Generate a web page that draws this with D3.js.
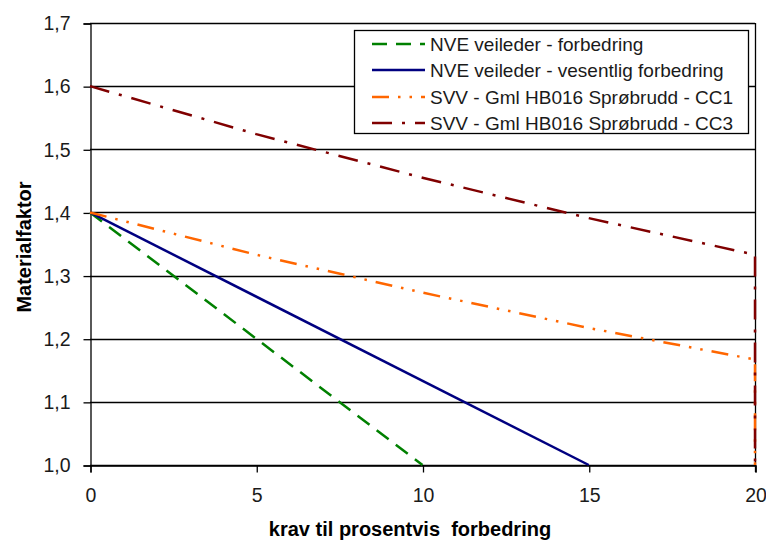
<!DOCTYPE html>
<html>
<head>
<meta charset="utf-8">
<script src="https://cdn.jsdelivr.net/npm/d3@7"></script>
<style>
  html, body { margin: 0; padding: 0; background: #fff; }
  svg { display: block; }
  text { font-family: "Liberation Sans", Arial, sans-serif; }
</style>
</head>
<body>
<svg id="chart" width="766" height="540"></svg>
<script>
// Material factor versus required percentage improvement
const seriesNames = [
  "NVE veileder - forbedring",
  "NVE veileder - vesentlig forbedring",
  "SVV - Gml HB016 Sprøbrudd - CC1",
  "SVV - Gml HB016 Sprøbrudd - CC3"
];
const nveForbedringX = [0, 10];
const nveForbedringY = [1.4, 1.0];
const nveVesentligX = [0, 15];
const nveVesentligY = [1.4, 1.0];
const svvCC1X = [0, 5, 10, 15, 20, 20];
const svvCC1Y = [1.400, 1.333, 1.273, 1.217, 1.167, 1.0];
const svvCC3X = [0, 5, 10, 15, 20, 20];
const svvCC3Y = [1.600, 1.524, 1.455, 1.391, 1.333, 1.0];
const xTicks = [0, 5, 10, 15, 20];
const yTicks = [1.0, 1.1, 1.2, 1.3, 1.4, 1.5, 1.6, 1.7];
const xTitle = "krav til prosentvis  forbedring";
const yTitle = "Materialfaktor";

const styles = [
  { color: "#008000", width: 2.5, dash: "15,9" },
  { color: "#000080", width: 2.5, dash: null },
  { color: "#FF6600", width: 2.5, dash: "17,9,2.5,9,2.5,9" },
  { color: "#800000", width: 2.5, dash: "20,10,3,10" }
];

const seriesData = [
  nveForbedringX.map((x, i) => [x, nveForbedringY[i]]),
  nveVesentligX.map((x, i) => [x, nveVesentligY[i]]),
  svvCC1X.map((x, i) => [x, svvCC1Y[i]]),
  svvCC3X.map((x, i) => [x, svvCC3Y[i]])
];

const svg = d3.select("#chart");
const plotLeft = 90, plotRight = 755, plotTop = 23, plotBottom = 465;

const x = d3.scaleLinear().domain([0, 20]).range([plotLeft, plotRight]);
const y = d3.scaleLinear().domain([1.0, 1.7]).range([plotBottom, plotTop]);
const comma = v => d3.format(".1f")(v).replace(".", ",");

// horizontal grid lines
svg.append("g")
  .selectAll("line")
  .data(yTicks)
  .join("line")
  .attr("x1", plotLeft).attr("x2", plotRight)
  .attr("y1", d => Math.round(y(d)) + 0.5).attr("y2", d => Math.round(y(d)) + 0.5)
  .attr("stroke", "#000").attr("stroke-width", 1.3);

// right border of the plot area
svg.append("line")
  .attr("x1", plotRight + 0.5).attr("x2", plotRight + 0.5)
  .attr("y1", plotTop).attr("y2", plotBottom + 7)
  .attr("stroke", "#000").attr("stroke-width", 1.3);

// y axis
const yAxis = svg.append("g")
  .attr("transform", `translate(${plotLeft + 0.5},0.5)`)
  .call(d3.axisLeft(y).tickValues(yTicks).tickFormat(comma).tickSize(7).tickPadding(13));
yAxis.select(".domain").attr("stroke-width", 1.3);
yAxis.selectAll(".tick line").attr("stroke-width", 1.3);
yAxis.selectAll("text").attr("font-size", 19.5).attr("fill", "#1a1a1a")
  .style("font-family", "'Liberation Sans', Arial, sans-serif");

// x axis
const xAxis = svg.append("g")
  .attr("transform", `translate(0.5,${plotBottom + 0.5})`)
  .call(d3.axisBottom(x).tickValues(xTicks).tickFormat(d3.format("d")).tickSize(7).tickPadding(16));
xAxis.select(".domain").attr("stroke-width", 1.3);
xAxis.selectAll(".tick line").attr("stroke-width", 1.3);
xAxis.selectAll("text").attr("font-size", 19.5).attr("fill", "#1a1a1a")
  .style("font-family", "'Liberation Sans', Arial, sans-serif");

// series
const line = d3.line().x(d => x(d[0])).y(d => y(d[1]));
svg.append("g")
  .selectAll("path")
  .data(seriesData)
  .join("path")
  .attr("d", line)
  .attr("fill", "none")
  .attr("stroke", (d, i) => styles[i].color)
  .attr("stroke-width", (d, i) => styles[i].width)
  .attr("stroke-dasharray", (d, i) => styles[i].dash);

// axis titles
svg.append("text")
  .attr("x", 410).attr("y", 536)
  .attr("text-anchor", "middle")
  .attr("font-size", 20).attr("font-weight", "bold")
  .attr("fill", "#000")
  .style("white-space", "pre")
  .text(xTitle);

svg.append("text")
  .attr("transform", `translate(31,247) rotate(-90)`)
  .attr("text-anchor", "middle")
  .attr("font-size", 20).attr("font-weight", "bold")
  .attr("fill", "#000")
  .text(yTitle);

// legend
const lg = svg.append("g");
lg.append("rect")
  .attr("x", 354.5).attr("y", 30.5).attr("width", 394).attr("height", 103)
  .attr("fill", "#fff").attr("stroke", "#000").attr("stroke-width", 1.3);
const rowY = [44, 70, 97, 123];
seriesNames.forEach((name, i) => {
  lg.append("line")
    .attr("x1", 372).attr("x2", 425)
    .attr("y1", rowY[i]).attr("y2", rowY[i])
    .attr("stroke", styles[i].color)
    .attr("stroke-width", styles[i].width)
    .attr("stroke-dasharray", styles[i].dash);
  lg.append("text")
    .attr("x", 430).attr("y", rowY[i] + 7)
    .attr("font-size", 19).attr("fill", "#1a1a1a")
    .text(name);
});
</script>
</body>
</html>
